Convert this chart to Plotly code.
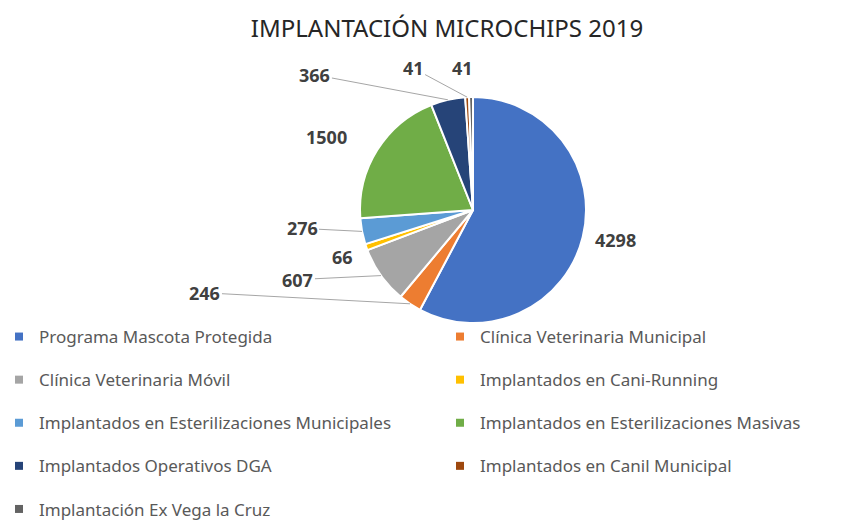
import numpy as np
import plotly.graph_objs as go

# datos
labels = ['Programa Mascota Protegida', 'Clínica Veterinaria Municipal',
          'Clínica Veterinaria Móvil', 'Implantados en Cani-Running',
          'Implantados en Esterilizaciones Municipales', 'Implantados en Esterilizaciones Masivas',
          'Implantados Operativos DGA', 'Implantados en Canil Municipal',
          'Implantación Ex Vega la Cruz']
values = [4298, 246, 607, 66, 276, 1500, 366, 41, 41]
colors = ['#4472C4', '#ED7D31', '#A5A5A5', '#FFC000', '#5B9BD5',
          '#70AD47', '#264478', '#9E480E', '#636363']

W, H = 850, 520
cx, cy, r = 473, 210, 113  # pie centre / radius in px

# label placement (px offset from slice edge), leader line on/off
label_off = [(33, 3), (-205, -11), (-83, 4), (-24, 10), (-60, -3),
             (-51, -13), (-133, -25), (-54, -29), (-9, -29)]
leader = [False, True, True, False, True, False, True, True, False]

fig = go.Figure()
fig.add_trace(go.Pie(labels=labels, values=values, sort=False, direction='clockwise',
                     marker=dict(colors=colors, line=dict(color='white', width=2)),
                     textinfo='none', hoverinfo='label+value', showlegend=False,
                     domain=dict(x=[(cx - r) / W, (cx + r) / W],
                                 y=[(H - cy - r) / H, (H - cy + r) / H])))

# legend entries (two columns)
for i, (lab, col) in enumerate(zip(labels, colors)):
    fig.add_trace(go.Scatter(x=[None], y=[None], mode='markers', name=lab,
                             marker=dict(symbol='square', size=8, color=col),
                             legendgroup=lab, legend='legend' if i % 2 == 0 else 'legend2'))

# data labels
vals = np.array(values, dtype=float)
cum = np.cumsum(vals) / vals.sum()
mid = (cum - vals / vals.sum() / 2) * 2 * np.pi
for v, a, (dx, dy), ln in zip(values, mid, label_off, leader):
    ex = (cx + r * np.sin(a)) / W
    ey = (H - (cy - r * np.cos(a))) / H
    font = dict(family='Noto Sans', size=18, color='#404040')
    if ln:
        fig.add_annotation(x=ex, y=ey, xref='paper', yref='paper', text='<b>%d</b>' % v,
                           showarrow=True, arrowhead=0, arrowwidth=1, arrowcolor='#a6a6a6',
                           ax=dx, ay=dy, font=font)
    else:
        fig.add_annotation(x=ex, y=ey, xref='paper', yref='paper', text='<b>%d</b>' % v,
                           showarrow=False, xanchor='center', yanchor='middle',
                           xshift=dx, yshift=-dy, font=font)

leg = dict(font=dict(family='Noto Sans', size=17, color='#595959'), bgcolor='rgba(0,0,0,0)',
           xanchor='left', yanchor='top', y=1 - 319 / H, tracegroupgap=18, orientation='v')
fig.update_layout(
    width=W, height=H,
    margin=dict(l=0, r=0, t=0, b=0, autoexpand=False),
    paper_bgcolor='white', plot_bgcolor='white',
    title=dict(text='IMPLANTACIÓN MICROCHIPS 2019', x=447 / W, y=1 - 29 / H,
               xanchor='center', yanchor='middle',
               font=dict(family='Noto Sans', size=24, color='#262626')),
    xaxis=dict(visible=False), yaxis=dict(visible=False),
    legend=dict(leg, x=-1 / W),
    legend2=dict(leg, x=440 / W),
)

fig.write_html("out.html", config={'displayModeBar': False},
               post_script="document.body.style.margin='0';")
